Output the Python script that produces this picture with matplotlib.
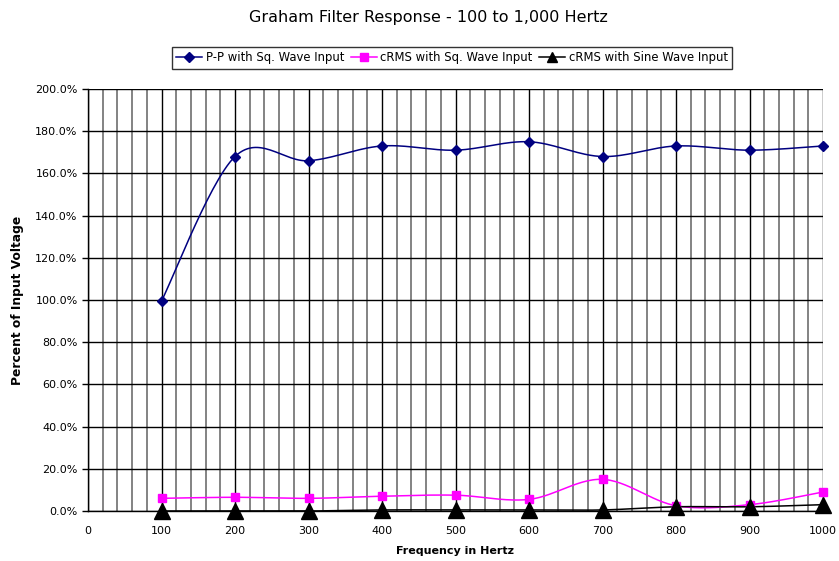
import numpy as np
import matplotlib
matplotlib.use('Agg')
import matplotlib.pyplot as plt
from matplotlib.ticker import MultipleLocator, FuncFormatter

freq = [100, 200, 300, 400, 500, 600, 700, 800, 900, 1000]
pp_sq = [99.5, 168.0, 166.0, 173.0, 171.0, 175.0, 168.0, 173.0, 171.0, 173.0]
crms_sq = [6.0, 6.5, 6.0, 7.0, 7.5, 5.5, 15.0, 2.5, 3.0, 9.0]
crms_sine = [0.0, 0.0, 0.0, 0.5, 0.5, 0.5, 0.5, 2.0, 2.0, 3.0]


def smooth(x, y, n=30):
    # catmull-rom, roughly what excel does with "smoothed line"
    x = np.asarray(x, float)
    y = np.asarray(y, float)
    px = np.concatenate([[x[0]], x, [x[-1]]])
    py = np.concatenate([[y[0]], y, [y[-1]]])
    xs, ys = [], []
    t = np.linspace(0, 1, n)
    for i in range(1, len(px) - 2):
        for p, out in ((px, xs), (py, ys)):
            p0, p1, p2, p3 = p[i - 1], p[i], p[i + 1], p[i + 2]
            out.extend(0.5 * ((2 * p1) + (-p0 + p2) * t
                              + (2 * p0 - 5 * p1 + 4 * p2 - p3) * t ** 2
                              + (-p0 + 3 * p1 - 3 * p2 + p3) * t ** 3))
    return np.array(xs), np.array(ys)


fig = plt.figure(figsize=(8.39, 5.61), dpi=100)
ax = fig.add_axes([88 / 839, 1 - 511 / 561, 735 / 839, 422 / 561])

series = [
    (pp_sq, '#000080', 'D', 5, 'P-P with Sq. Wave Input'),
    (crms_sq, '#FF00FF', 's', 6, 'cRMS with Sq. Wave Input'),
    (crms_sine, 'black', '^', 11, 'cRMS with Sine Wave Input'),
]
handles = []
for vals, col, mk, ms, lab in series:
    sx, sy = smooth(freq, vals)
    ax.plot(sx, sy, color=col, lw=1.1, zorder=3, clip_on=False)
    ax.plot(freq, vals, ls='none', marker=mk, ms=ms, color=col, zorder=4, clip_on=False)
    h, = ax.plot([], [], color=col, lw=1.1, marker=mk, ms=min(ms, 7), label=lab)
    handles.append(h)

ax.set_xlim(0, 1000)
ax.set_ylim(0, 200)
ax.xaxis.set_major_locator(MultipleLocator(100))
ax.xaxis.set_minor_locator(MultipleLocator(20))
ax.yaxis.set_major_locator(MultipleLocator(20))
ax.yaxis.set_major_formatter(FuncFormatter(lambda v, p: '%.1f%%' % v))
ax.grid(True, which='minor', axis='x', color='#7a7a7a', lw=1.3)
ax.grid(True, which='major', axis='x', color='black', lw=1.0)
ax.grid(True, which='major', axis='y', color='black', lw=1.0)
ax.set_axisbelow(True)
ax.tick_params(axis='both', which='major', labelsize=8, length=4, width=1)
ax.tick_params(axis='x', which='minor', length=0)
ax.tick_params(axis='x', which='major', length=0, pad=11)
for s in ['top', 'right']:
    ax.spines[s].set_visible(False)
ax.spines['left'].set_linewidth(1)
ax.spines['bottom'].set_linewidth(1)

ax.set_xlabel('Frequency in Hertz', fontsize=8, fontweight='bold', labelpad=7)
ax.set_ylabel('Percent of Input Voltage', fontsize=8.8, fontweight='bold', labelpad=8)
fig.suptitle('Graham Filter Response - 100 to 1,000 Hertz', fontsize=11.5, x=428 / 839, y=0.983)

leg = fig.legend(handles=handles, loc='center', bbox_to_anchor=(452 / 839, 1 - 58 / 561),
                 ncol=3, fontsize=8.4, frameon=True, fancybox=False, edgecolor='black',
                 handlelength=2.2, handletextpad=0.3, columnspacing=0.6, borderpad=0.35)
leg.get_frame().set_linewidth(1)

fig.savefig('out.png', dpi=100)
